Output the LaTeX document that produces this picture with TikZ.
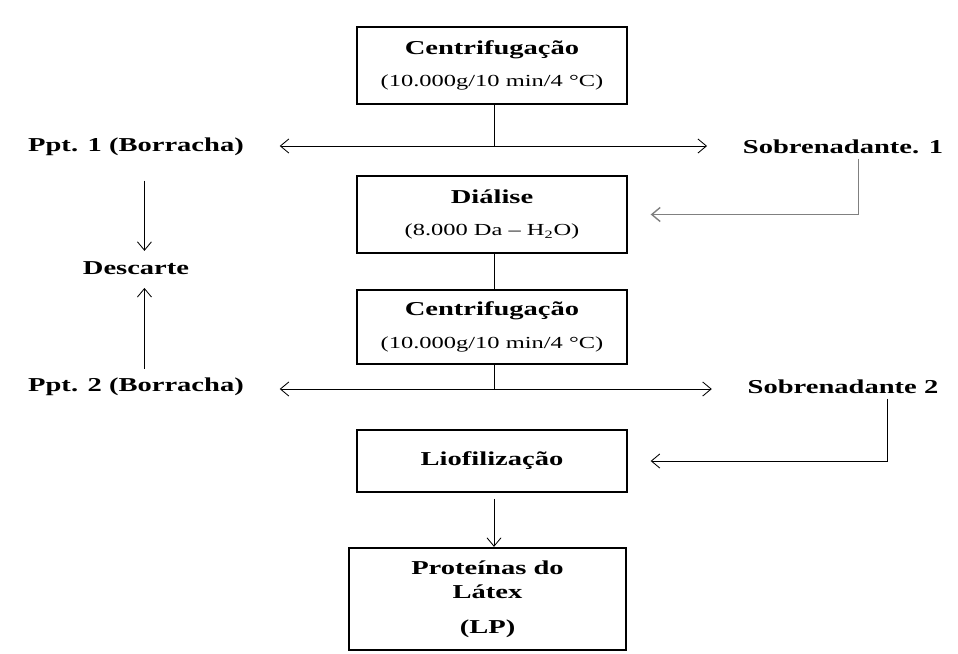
\documentclass[tikz,border=0pt]{standalone}
\usepackage{fontspec}
\setmainfont{Liberation Serif}[FakeStretch=1.45]
\usetikzlibrary{arrows.meta,positioning}
\tikzset{
  procbox/.style={draw,rectangle,line width=1.6pt,minimum width=6.75cm,align=center,
    font=\fontsize{14}{17}\selectfont\bfseries},
  lbl/.style={font=\fontsize{14}{17}\selectfont\bfseries},
  flow/.style={line width=0.6pt}
}
\newcommand{\cond}[1]{{\mdseries\fontsize{12}{14}\selectfont #1}}

\begin{document}
\begin{tikzpicture}[x=0.025cm,y=-0.025cm,>={Straight Barb[length=6pt,width=10pt]}]
  \useasboundingbox (0,0) rectangle (958,653);
  % main column
  \node[procbox,minimum height=1.925cm] (ctf1) at (492,65.5) {Centrifugação\\[6pt]\cond{(10.000g/10 min/4 °C)}};
  \node[procbox,minimum height=1.925cm] (dial) at (492,214.5) {Diálise\\[6pt]\cond{(8.000 Da -- H\textsubscript{2}O)}};
  \node[procbox,minimum height=1.85cm] (ctf2) at (492,327) {Centrifugação\\[6pt]\cond{(10.000g/10 min/4 °C)}};
  \node[procbox,minimum height=1.55cm] (liof) at (492,461) {Liofilização};
  \node[procbox,minimum width=6.925cm,minimum height=2.55cm] (lp) at (487.5,599) {Proteínas do\\Látex\\[8pt](LP)};
  % side labels
  \node[lbl] (ppt1) at (136,147) {Ppt. 1 (Borracha)};
  \node[lbl] (sob1) at (843,147) {Sobrenadante. 1};
  \node[lbl] (desc) at (136,268) {Descarte};
  \node[lbl] (ppt2) at (136,387) {Ppt. 2 (Borracha)};
  \node[lbl] (sob2) at (843,387) {Sobrenadante 2};
  \coordinate (j1) at (494,146);
  \coordinate (j2) at (494,389);
  \coordinate (s2turn) at (887,461);

  \draw[flow] (ctf1.south -| j1) -- (j1);
  \draw[flow,->,shorten >=22pt] (j1) -- (ppt1.east |- j1);
  \draw[flow,->,shorten >=22pt] (j1) -- (sob1.west |- j1);
  \draw[flow,->,gray,line width=1pt,shorten >=16pt] ([xshift=11pt]sob1.south) |- (dial.east);
  \draw[flow] (dial.south -| j1) -- (ctf2.north -| j1);
  \draw[flow] (ctf2.south -| j1) -- (j2);
  \draw[flow,->,shorten >=22pt] (j2) -- (ppt2.east |- j2);
  \draw[flow,->,shorten >=22pt] (j2) -- (sob2.west |- j2);
  \draw[flow,->,shorten >=16pt] (sob2.south -| s2turn) -- (s2turn) -- (s2turn -| liof.east);
  \draw[flow,->,shorten <=4pt] (liof.south -| j1) -- (lp.north -| j1);
  \draw[flow,->,shorten <=14pt,shorten >=4pt] ([xshift=6pt]ppt1.south) -- ([xshift=6pt]desc.north);
  \draw[flow,->,shorten <=3pt,shorten >=6pt] ([xshift=6pt]ppt2.north) -- ([xshift=6pt]desc.south);
\end{tikzpicture}
\end{document}
